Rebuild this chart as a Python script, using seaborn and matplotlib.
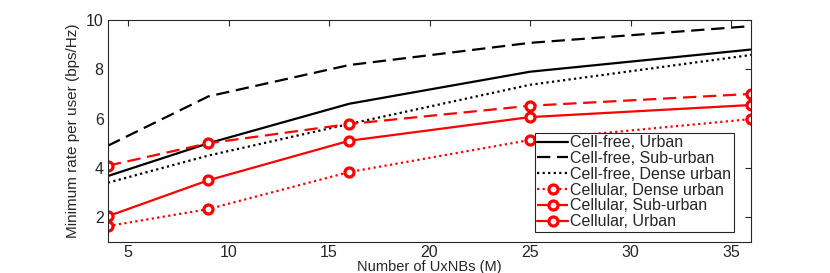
import numpy as np
import pandas as pd
import matplotlib
matplotlib.use("Agg")
import matplotlib.pyplot as plt
import seaborn as sns

#******************
#   Data
#******************
M = [4, 9, 16, 25, 36]
cf_urban = [3.67, 5.0, 6.6, 7.9, 8.8]
cf_suburban = [4.9, 6.9, 8.17, 9.07, 9.75]
cf_dense = [3.4, 4.5, 5.78, 7.37, 8.58]
cel_dense = [1.64, 2.33, 3.83, 5.13, 5.98]
cel_suburban = [4.09, 5.0, 5.78, 6.52, 7.0]
cel_urban = [2.04, 3.5, 5.1, 6.06, 6.55]

labels = ["Cell-free, Urban", "Cell-free, Sub-urban", "Cell-free, Dense urban",
          "Cellular, Dense urban", "Cellular, Sub-urban", "Cellular, Urban"]
series = [cf_urban, cf_suburban, cf_dense, cel_dense, cel_suburban, cel_urban]
colors = ["black", "black", "black", "red", "red", "red"]
dashes = ["-", (0, (6, 3)), (0, (1, 1.5)), (0, (1, 1.5)), (0, (6, 3)), "-"]
markers = [None, None, None, "o", "o", "o"]

df = pd.DataFrame({"M": M * len(labels),
                   "rate": np.concatenate(series),
                   "label": np.repeat(labels, len(M))})

#*******************
#   Set asthetics
#*******************
sns.set_style("white")
plt.rcParams["font.family"] = ["Liberation Sans", "DejaVu Sans"]
plt.rcParams["xtick.direction"] = "in"
plt.rcParams["ytick.direction"] = "in"

fig = plt.figure(figsize=(8.3, 2.73), dpi=100)
ax = fig.add_axes([0.130, 0.114, 0.775, 0.813])

#*******************
#   Draw lines
#*******************
for lab, c, ls, mk in zip(labels, colors, dashes, markers):
    sub = df[df["label"] == lab]
    sns.lineplot(data=sub, x="M", y="rate", ax=ax, color=c, label=lab,
                 linewidth=1.6, marker=mk, markersize=6.5,
                 markerfacecolor="white", markeredgecolor=c,
                 markeredgewidth=2.3)
    ax.lines[-1].set_linestyle(ls)

#******************
#   Axes, labels
#******************
ax.set_xlim(4, 36)
ax.set_ylim(1, 10)
ax.set_xticks([5, 10, 15, 20, 25, 30, 35])
ax.set_yticks([2, 4, 6, 8, 10])
ax.tick_params(top=True, right=True, length=4, width=0.8, labelsize=11.5,
               colors="#262626", pad=3)
ax.tick_params(axis="x", pad=2)
for s in ax.spines.values():
    s.set_color("#262626")
    s.set_linewidth(0.8)

ax.set_xlabel("Number of UxNBs (M)", fontsize=10.5, labelpad=0)
ax.set_ylabel("Minimum rate per user (bps/Hz)", fontsize=11, labelpad=4)

leg = ax.legend(loc="lower right", fontsize=11.5, handlelength=1.9,
                handletextpad=0.15, borderpad=0.15, labelspacing=0.05,
                fancybox=False, framealpha=1, edgecolor="#262626",
                bbox_to_anchor=(0.985, 0.01))
leg.get_frame().set_linewidth(0.8)
for h, ls in zip(leg.get_lines(), dashes):
    h.set_linestyle(ls)

fig.savefig("out.png", dpi=100)
